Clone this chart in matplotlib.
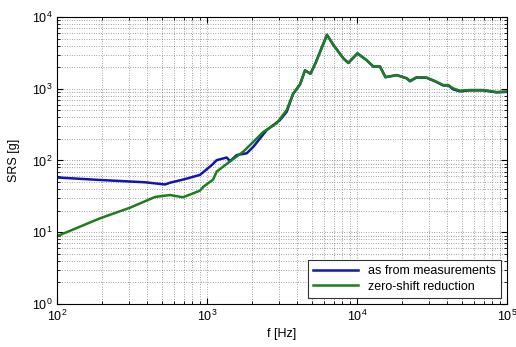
import numpy as np
import matplotlib as mpl
mpl.use('Agg')
import matplotlib.pyplot as plt
from matplotlib.ticker import LogLocator, NullFormatter

# data (frequency in Hz, SRS in g)
f_meas = [100, 193, 386, 525, 567, 713, 898, 1080, 1160, 1353, 1423, 1578, 1840,
          2035, 2500, 3067, 3400, 3750, 4170, 4500, 4900, 5300, 6310, 6950, 8100,
          8750, 10070, 11600, 12840, 14230, 15490, 18400, 21440, 22550, 25000,
          29150, 33110, 37600, 40600, 43850, 48600, 56650, 69500, 85300, 100000]
srs_meas = [58, 53.5, 49.7, 46.3, 49, 55, 63, 87, 101, 110, 98, 119, 126,
            155, 265, 366, 478, 850, 1150, 1800, 1620, 2300, 5640, 4100, 2660,
            2290, 3110, 2500, 2040, 2040, 1450, 1550, 1400, 1270, 1440,
            1420, 1270, 1110, 1110, 980, 920, 950, 950, 890, 905]

f_zero = [100, 193, 307, 450, 567, 692, 898, 945, 1096, 1160, 1423, 1746, 1935,
          2373, 2915, 3400, 3750, 4170, 4500, 4900, 5300, 6310, 6950, 8100,
          8750, 10070, 11600, 12840, 14230, 15490, 18400, 21440, 22550, 25000,
          29150, 33110, 37600, 40600, 43850, 48600, 56650, 69500, 85300, 100000]
srs_zero = [8.8, 15.6, 22, 31, 33, 30.7, 38, 43, 54, 70, 97, 133, 164,
            250, 330, 505, 850, 1150, 1800, 1620, 2300, 5640, 4100, 2660,
            2290, 3110, 2500, 2040, 2040, 1450, 1550, 1400, 1290, 1450,
            1430, 1280, 1125, 1125, 1010, 940, 960, 960, 900, 915]

labels = ['as from measurements', 'zero-shift reduction']

plt.rcParams['font.family'] = ['Liberation Sans', 'DejaVu Sans']
plt.rcParams['mathtext.default'] = 'regular'
plt.rcParams['font.size'] = 8

fig = plt.figure(figsize=(5.16, 3.47), dpi=100)
ax = fig.add_axes([0.1105, 0.124, 0.872, 0.827])

ax.loglog(f_meas, srs_meas, color='#1414b4', lw=1.8, label=labels[0])
ax.loglog(f_zero, srs_zero, color='#1e7d1e', lw=1.8, label=labels[1])

ax.set_xlim(1e2, 1e5)
ax.set_ylim(1e0, 1e4)
ax.xaxis.set_major_locator(LogLocator(base=10, numticks=10))
ax.yaxis.set_major_locator(LogLocator(base=10, numticks=10))
ax.xaxis.set_minor_locator(LogLocator(base=10, subs=np.arange(2, 10), numticks=20))
ax.yaxis.set_minor_locator(LogLocator(base=10, subs=np.arange(2, 10), numticks=20))
ax.xaxis.set_minor_formatter(NullFormatter())
ax.yaxis.set_minor_formatter(NullFormatter())

# matlab-ish grid and ticks
ax.grid(True, which='both', color='0.3', ls=(0, (1, 2.5)), lw=0.5)
ax.tick_params(which='both', direction='in', top=True, right=True, colors='black', labelsize=9)
ax.tick_params(which='major', length=4)
ax.tick_params(which='minor', length=2)
for s in ax.spines.values():
    s.set_linewidth(0.8)

ax.set_xlabel('f [Hz]', fontsize=9, labelpad=3)
ax.set_ylabel('SRS [g]', fontsize=9, labelpad=8)

leg = ax.legend(loc='lower right', fancybox=False, framealpha=1, edgecolor='0.2',
                fontsize=9, handlelength=3.6, borderaxespad=0.5, labelspacing=0.3)
leg.get_frame().set_linewidth(0.8)

fig.savefig('out.png', dpi=100)
plt.close()
